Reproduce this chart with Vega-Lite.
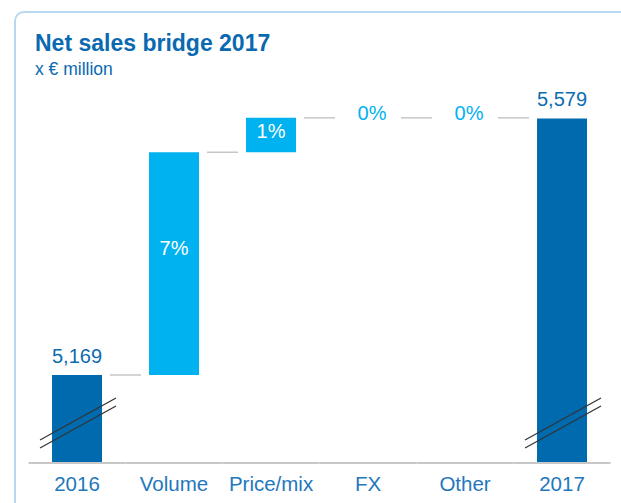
{
  "$schema": "https://vega.github.io/schema/vega-lite/v6.json",
  "width": 616,
  "height": 501,
  "autosize": "none",
  "padding": {"left": 15, "top": 12, "right": -10, "bottom": -10},
  "background": "white",
  "title": {
    "text": "Net sales bridge 2017",
    "subtitle": "x € million",
    "anchor": "start",
    "frame": "group",
    "orient": "top",
    "offset": -66,
    "dx": 20,
    "font": "Liberation Sans",
    "fontSize": 23,
    "fontWeight": "bold",
    "color": "#0a69b0",
    "subtitleFont": "Liberation Sans",
    "subtitleFontSize": 17.5,
    "subtitleColor": "#0a69b0",
    "subtitlePadding": 5
  },
  "config": {
    "view": {"stroke": "#b9d8ef", "strokeWidth": 2, "cornerRadius": 9},
    "font": "Liberation Sans"
  },
  "data": {
    "values": [
      {"cat": "2016", "start": 0, "end": 5169, "label": "5,169", "type": "total"},
      {"cat": "Volume", "start": 5169, "end": 5525, "label": "7%", "type": "delta"},
      {"cat": "Price/mix", "start": 5525, "end": 5580, "label": "1%", "type": "delta"},
      {"cat": "FX", "start": 5580, "end": 5580, "label": "0%", "type": "delta"},
      {"cat": "Other", "start": 5580, "end": 5580, "label": "0%", "type": "delta"},
      {"cat": "2017", "start": 0, "end": 5579, "label": "5,579", "type": "total"}
    ]
  },
  "encoding": {
    "x": {
      "field": "cat",
      "type": "nominal",
      "sort": null,
      "scale": {"paddingInner": 0.4845, "paddingOuter": 0.4175, "align": 0.457},
      "axis": {
        "title": null,
        "orient": "bottom",
        "offset": -50,
        "domain": false,
        "ticks": false,
        "grid": false,
        "labelPadding": 27,
        "labelBaseline": "alphabetic",
        "labelFontSize": 20.5,
        "labelColor": "#2477bd",
        "labelFont": "Liberation Sans",
        "labelAngle": 0
      }
    }
  },
  "layer": [
    {
      "mark": {"type": "bar"},
      "encoding": {
        "y": {
          "field": "end",
          "type": "quantitative",
          "scale": {"domain": [5028.3, 5749.2], "range": [451, 0], "clamp": true, "zero": false, "nice": false},
          "axis": null
        },
        "y2": {"field": "start"},
        "color": {
          "field": "type",
          "type": "nominal",
          "scale": {"domain": ["total", "delta"], "range": ["#006aae", "#00b2ef"]},
          "legend": null
        }
      }
    },
    {
      "mark": {"type": "rule", "color": "#c8c8c8", "strokeWidth": 2},
      "encoding": {
        "x": {"field": "cat", "type": "nominal", "bandPosition": -0.47},
        "x2": {"field": "cat", "bandPosition": 1.47},
        "y": {"datum": 5028.3}
      }
    },
    {
      "transform": [{"filter": "datum.cat !== '2017'"}],
      "mark": {"type": "rule", "color": "#c6c6c6", "strokeWidth": 1.5},
      "encoding": {
        "x": {"field": "cat", "type": "nominal", "bandPosition": 1.16},
        "x2": {"field": "cat", "bandPosition": 1.78},
        "y": {"field": "end", "type": "quantitative"}
      }
    },
    {
      "transform": [{"filter": "datum.type === 'total'"}],
      "mark": {"type": "rule", "color": "#333333", "strokeWidth": 1.2},
      "encoding": {
        "x": {"field": "cat", "type": "nominal", "bandPosition": -0.24},
        "x2": {"field": "cat", "bandPosition": 1.28},
        "y": {"datum": 5065.0},
        "y2": {"datum": 5132.2}
      }
    },
    {
      "transform": [{"filter": "datum.type === 'total'"}],
      "mark": {"type": "rule", "color": "#333333", "strokeWidth": 1.2},
      "encoding": {
        "x": {"field": "cat", "type": "nominal", "bandPosition": -0.24},
        "x2": {"field": "cat", "bandPosition": 1.28},
        "y": {"datum": 5052.3},
        "y2": {"datum": 5119.4}
      }
    },
    {
      "transform": [{"filter": "datum.type === 'total'"}],
      "mark": {"type": "text", "baseline": "alphabetic", "dy": -12, "fontSize": 20, "color": "#0d6cb0"},
      "encoding": {
        "y": {"field": "end", "type": "quantitative"},
        "text": {"field": "label"}
      }
    },
    {
      "transform": [{"filter": "datum.cat === 'Volume'"}],
      "mark": {"type": "text", "baseline": "middle", "dy": 96.5, "fontSize": 20, "color": "white"},
      "encoding": {
        "y": {"field": "end", "type": "quantitative"},
        "text": {"field": "label"}
      }
    },
    {
      "transform": [{"filter": "datum.cat === 'Price/mix'"}],
      "mark": {"type": "text", "baseline": "middle", "dy": 14, "fontSize": 20, "color": "white"},
      "encoding": {
        "y": {"field": "end", "type": "quantitative"},
        "text": {"field": "label"}
      }
    },
    {
      "transform": [{"filter": "datum.cat === 'FX' || datum.cat === 'Other'"}],
      "mark": {"type": "text", "baseline": "middle", "dy": -4, "dx": 4, "fontSize": 20, "color": "#00b2ef"},
      "encoding": {
        "y": {"field": "end", "type": "quantitative"},
        "text": {"field": "label"}
      }
    }
  ]
}
